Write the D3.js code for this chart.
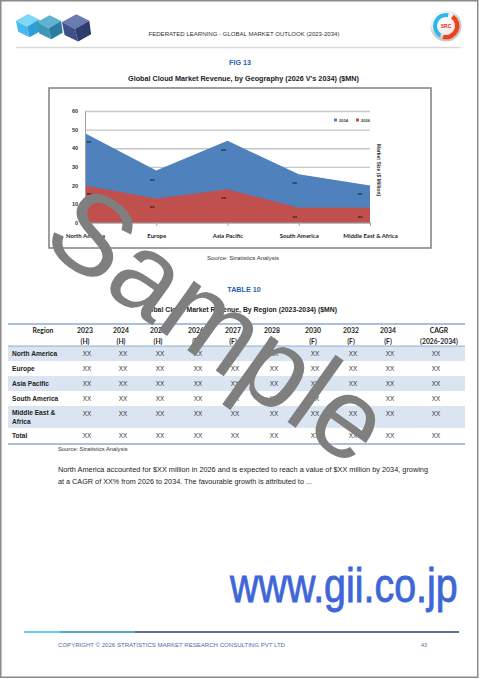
<!DOCTYPE html>
<html><head><meta charset="utf-8">
<script src="https://cdn.jsdelivr.net/npm/d3@7"></script>
<style>html,body{margin:0;padding:0;background:#fff;}svg{display:block;}</style>
</head><body>
<script>
// ---- data ----
const categories = ["North America","Europe","Asia Pacific","South America","Middle East & Africa"];
const values2034 = [48, 28, 44, 26, 20];
const values2026 = [20, 13, 18, 8, 8];
const yTicks = [10, 20, 30, 40, 50, 60];
const seriesNames = ["2034", "2026"];
const tableHeaders1 = ["Region","2023","2024","2025","2026","2027","2028","2030","2032","2034","CAGR"];
const tableHeaders2 = ["","(H)","(H)","(H)","(E)","(F)","(F)","(F)","(F)","(F)","(2026-2034)"];
const tableRegions = ["North America","Europe","Asia Pacific","South America","Middle East & Africa","Total"];
const tableCell = "XX";

const W = 480, H = 679;
const svg = d3.select("body").append("svg").attr("width", W).attr("height", H);
const SANS = "'Liberation Sans', Arial, sans-serif";
const CAL = "Lato, 'Open Sans', sans-serif";

// page border
svg.append("rect").attr("x",0.75).attr("y",0.75).attr("width",477).attr("height",676.5)
  .attr("fill","none").attr("stroke","#8a8a8a").attr("stroke-width",1.5);

// ---- header ----
function cube(g, x, y, s, top, left, right) {
  const p = (pts) => pts.map(d => d.join(",")).join(" ");
  g.append("polygon").attr("points", p([[x, y+s*0.35],[x+s*0.55, y+s*0.05],[x+s*1.05, y+s*0.3],[x+s*0.5, y+s*0.62]])).attr("fill", top);
  g.append("polygon").attr("points", p([[x, y+s*0.35],[x+s*0.5, y+s*0.62],[x+s*0.62, y+s*1.1],[x+s*0.1, y+s*0.85]])).attr("fill", left);
  g.append("polygon").attr("points", p([[x+s*0.5, y+s*0.62],[x+s*1.05, y+s*0.3],[x+s*1.12, y+s*0.82],[x+s*0.62, y+s*1.1]])).attr("fill", right);
}
const logo = svg.append("g");
cube(logo, 16, 13, 22, "#7fd6f7", "#45baf0", "#2a9fd8");
cube(logo, 37, 14, 23, "#5fb3cf", "#3d97b8", "#2a7fa0");
cube(logo, 62, 13, 26, "#6a7bb0", "#3f4f8a", "#2e3c70");

svg.append("text").attr("x", 244).attr("y", 36).attr("text-anchor","middle")
  .attr("font-family", SANS).attr("font-size", 5.6).attr("fill","#333")
  .attr("textLength", 191).attr("lengthAdjust","spacingAndGlyphs")
  .text("FEDERATED LEARNING - GLOBAL MARKET OUTLOOK (2023-2034)");
svg.append("line").attr("x1",16).attr("x2",461).attr("y1",47.5).attr("y2",47.5)
  .attr("stroke","#d9d9d9").attr("stroke-width",1.5);

// right logo
const rl = svg.append("g").attr("transform","translate(446,26)");
const rg = svg.append("defs").append("radialGradient").attr("id","rlg").attr("cx","40%").attr("cy","35%");
rg.append("stop").attr("offset","0%").attr("stop-color","#ffffff");
rg.append("stop").attr("offset","80%").attr("stop-color","#eeeeee");
rg.append("stop").attr("offset","100%").attr("stop-color","#c8c8c8");
rl.append("circle").attr("r",15.5).attr("fill","url(#rlg)");
rl.append("path").attr("d", d3.arc()({innerRadius:9, outerRadius:13, startAngle:-2.6, endAngle:0.2})).attr("fill","#29b8ee");
rl.append("path").attr("d", d3.arc()({innerRadius:9, outerRadius:13.5, startAngle:0.6, endAngle:3.4})).attr("fill","#f0401c");
rl.append("text").attr("text-anchor","middle").attr("y",2).attr("font-family",SANS).attr("font-size",5).attr("font-weight","bold").attr("fill","#e03020").text("SRC");

// ---- figure titles ----
svg.append("text").attr("x",240).attr("y",65).attr("text-anchor","middle")
  .attr("font-family",SANS).attr("font-weight","bold").attr("font-size",7.2).attr("fill","#1f5fb0").text("FIG 13");
svg.append("text").attr("x",243.5).attr("y",81).attr("text-anchor","middle")
  .attr("font-family",SANS).attr("font-weight","bold").attr("font-size",7.3).attr("fill","#222")
  .attr("textLength",231).attr("lengthAdjust","spacingAndGlyphs")
  .text("Global Cloud Market Revenue, by Geography (2026 V's 2034) ($MN)");

// chart box
svg.append("rect").attr("x",49).attr("y",88).attr("width",382).attr("height",160)
  .attr("fill","#fff").attr("stroke","#7f7f7f").attr("stroke-width",1.5);

const x = d3.scalePoint().domain(categories).range([85, 370]).padding(0);
const y = d3.scaleLinear().domain([0, 60]).range([222.7, 111]);

// gridlines
const gridG = svg.append("g").attr("transform","translate(85,0)")
  .call(d3.axisLeft(y).tickValues(yTicks).tickSize(-285).tickFormat(""));
gridG.select(".domain").remove();
gridG.selectAll(".tick line").attr("stroke","#c6c6c6").attr("stroke-width",1.3);

// areas (2034 behind, 2026 front; overlapping)
const area = d3.area().x((d,i) => x(categories[i])).y0(y(0)).y1(d => y(d));
svg.append("path").datum(values2034).attr("d", area).attr("fill","#4f81bd");
svg.append("path").datum(values2026).attr("d", area).attr("fill","#c0504d");

// y axis
const yAx = svg.append("g").attr("transform","translate(85,0)")
  .call(d3.axisLeft(y).tickValues([0].concat(yTicks)).tickSize(0).tickPadding(7).tickFormat(d3.format("d")));
yAx.select(".domain").attr("stroke","#a0a0a0");
yAx.selectAll("text").attr("font-family",SANS).attr("font-weight","bold").attr("font-size",5.5).attr("fill","#333");

// x axis
const xAx = svg.append("g").attr("transform",`translate(0,${y(0)})`)
  .call(d3.axisBottom(x).tickSize(3).tickPadding(8));
xAx.select(".domain").attr("stroke","#a0a0a0");
xAx.selectAll(".tick line").attr("stroke","#a0a0a0");
xAx.selectAll("text").attr("font-family",CAL).attr("font-weight","bold").attr("font-size",6).attr("fill","#222");

// data labels
function lblX(i){ return x(categories[i]) + (i===0 ? 4 : i===categories.length-1 ? -10 : -4); }
[values2034, values2026].forEach(vals => {
  svg.append("g").selectAll("text").data(vals).join("text")
    .attr("x",(d,i)=>lblX(i)).attr("y",d=>y(d)+10).attr("text-anchor","middle")
    .attr("font-family",SANS).attr("font-weight","bold").attr("font-size",4).attr("fill","#111").text("xx");
});

// legend
const legColors = ["#4f81bd","#c0504d"];
const leg = svg.append("g");
seriesNames.forEach((s,i) => {
  const lx = 334 + i*22;
  leg.append("rect").attr("x",lx).attr("y",118.5).attr("width",3).attr("height",3).attr("fill",legColors[i]);
  leg.append("text").attr("x",lx+5).attr("y",121.5).attr("font-family",SANS).attr("font-weight","bold")
    .attr("font-size",4).attr("fill","#333").text(s);
});

// y-axis title (right side)
svg.append("text").attr("transform","translate(377,170) rotate(90)").attr("text-anchor","middle")
  .attr("font-family",SANS).attr("font-weight","bold").attr("font-size",5).attr("fill","#333")
  .text("Market Size ($ Million)");

svg.append("text").attr("x",243).attr("y",260).attr("text-anchor","middle")
  .attr("font-family",SANS).attr("font-size",6).attr("fill","#333").text("Source: Stratistics Analysis");

// ---- table ----
svg.append("text").attr("x",244).attr("y",292).attr("text-anchor","middle")
  .attr("font-family",SANS).attr("font-weight","bold").attr("font-size",7.2).attr("fill","#1f5fb0").text("TABLE 10");
svg.append("text").attr("x",239.5).attr("y",311.5).attr("text-anchor","middle")
  .attr("font-family",SANS).attr("font-weight","bold").attr("font-size",7).attr("fill","#222")
  .attr("textLength",195).attr("lengthAdjust","spacingAndGlyphs")
  .text("Global Cloud Market Revenue, By Region (2023-2034) ($MN)");

const colX = [43, 85, 121, 158, 196, 233, 272, 313, 351, 388, 439];
const rowTops = [346, 361, 376, 391, 406, 428];
const rowH = [15, 15, 15, 15, 22, 15];
const tg = svg.append("g");
rowTops.forEach((t,i) => {
  if (i % 2 === 0 && i < 5) tg.append("rect").attr("x",8).attr("y",t).attr("width",457).attr("height",rowH[i]).attr("fill","#dbe5f1");
});
tg.append("line").attr("x1",8).attr("x2",465).attr("y1",324).attr("y2",324).attr("stroke","#4f81bd").attr("stroke-width",1);
tg.append("line").attr("x1",8).attr("x2",465).attr("y1",346).attr("y2",346).attr("stroke","#4f81bd").attr("stroke-width",0.6);
tg.append("line").attr("x1",8).attr("x2",465).attr("y1",444).attr("y2",444).attr("stroke","#4f81bd").attr("stroke-width",1);

tableHeaders1.forEach((h,i) => {
  tg.append("text").attr("x",colX[i]).attr("y",332.5).attr("text-anchor","middle")
    .attr("font-family",CAL).attr("font-weight","bold").attr("font-size",6.8).attr("fill","#222").text(h);
  if (tableHeaders2[i]) tg.append("text").attr("x",colX[i]).attr("y",343.5).attr("text-anchor","middle")
    .attr("font-family",CAL).attr("font-weight","bold").attr("font-size",6.8).attr("fill","#222").text(tableHeaders2[i]);
});

tableRegions.forEach((r,i) => {
  const cy = rowTops[i] + 9.5;
  if (r === "Middle East & Africa") {
    tg.append("text").attr("x",12).attr("y",rowTops[i]+9).attr("font-family",SANS).attr("font-weight","bold")
      .attr("font-size",6.6).attr("fill","#222").text("Middle East &");
    tg.append("text").attr("x",12).attr("y",rowTops[i]+17.5).attr("font-family",SANS).attr("font-weight","bold")
      .attr("font-size",6.6).attr("fill","#222").text("Africa");
  } else {
    tg.append("text").attr("x",12).attr("y",cy).attr("font-family",SANS).attr("font-weight","bold")
      .attr("font-size",6.6).attr("fill","#222").text(r);
  }
  for (let c = 1; c < colX.length; c++) {
    tg.append("text").attr("x", c===colX.length-1 ? 436 : colX[c]+2).attr("y", rowTops[i]+9.5).attr("text-anchor","middle")
      .attr("font-family",SANS).attr("font-size",6.4).attr("fill","#333").text(tableCell);
  }
});
svg.append("text").attr("x",58).attr("y",451).attr("font-family",SANS).attr("font-size",5.8).attr("fill","#333")
  .text("Source: Stratistics Analysis");

// paragraph
svg.append("text").attr("x",58).attr("y",471.5).attr("font-family",SANS).attr("font-size",7.4).attr("fill","#222")
  .attr("textLength",370).attr("lengthAdjust","spacingAndGlyphs")
  .text("North America accounted for $XX million in 2026 and is expected to reach a value of $XX million by 2034, growing");
svg.append("text").attr("x",58).attr("y",483.5).attr("font-family",SANS).attr("font-size",7.4).attr("fill","#222")
  .attr("textLength",254).attr("lengthAdjust","spacingAndGlyphs")
  .text("at a CAGR of XX% from 2026 to 2034. The favourable growth is attributed to ...");

// ---- footer ----
svg.append("text").attr("transform","translate(230,602) scale(1,1.2)").attr("font-family",SANS).attr("font-size",39.4)
  .attr("fill","#3e66d8").attr("stroke","#3e66d8").attr("stroke-width",0.7)
  .text("www.gii.co.jp");
const fl = svg.append("g");
fl.append("line").attr("x1",24).attr("x2",60).attr("y1",632).attr("y2",632).attr("stroke","#2cc0f0").attr("stroke-width",1.6);
fl.append("line").attr("x1",60).attr("x2",135).attr("y1",632).attr("y2",632).attr("stroke","#1a8ab6").attr("stroke-width",1.6);
fl.append("line").attr("x1",135).attr("x2",459).attr("y1",632).attr("y2",632).attr("stroke","#2b3f7c").attr("stroke-width",1.6);
svg.append("text").attr("x",58).attr("y",647).attr("font-family",SANS).attr("font-size",5.3).attr("fill","#4a6fa5")
  .attr("textLength",227).attr("lengthAdjust","spacingAndGlyphs")
  .text("COPYRIGHT © 2026 STRATISTICS MARKET RESEARCH CONSULTING PVT LTD");
svg.append("text").attr("x",424).attr("y",647).attr("text-anchor","middle").attr("font-family",SANS).attr("font-size",5.5).attr("fill","#4a6fa5").text("43");

// ---- watermark ----
svg.append("text").attr("transform","translate(216,329) rotate(35.5)").attr("text-anchor","middle").attr("y",34)
  .attr("font-family",SANS).attr("font-size",114).attr("fill","#7f7f7f").text("Sample");
</script>
</body></html>
